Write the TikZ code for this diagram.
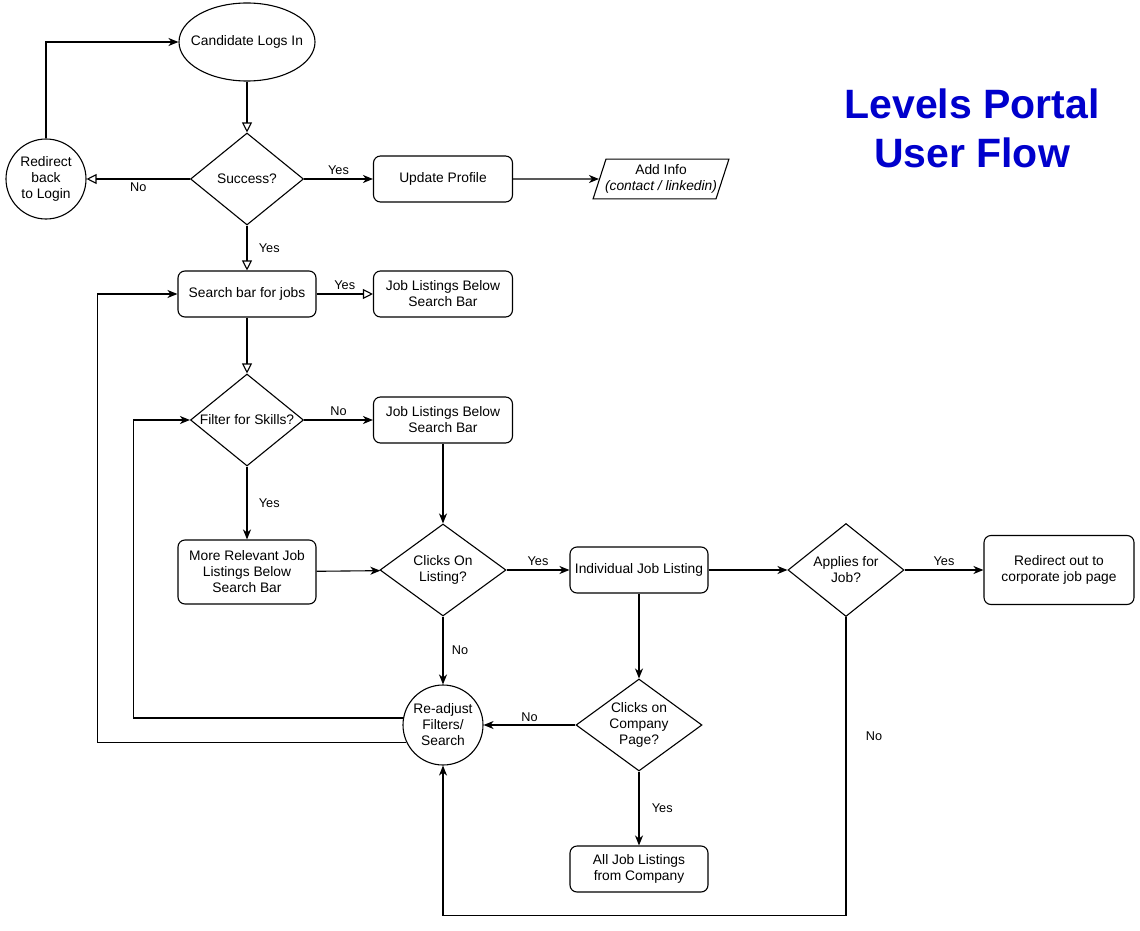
\documentclass[tikz,border=0pt]{standalone}
\usepackage{fontspec}
\setmainfont{Liberation Sans}
\usepackage{xcolor}
\usepackage{tikz}
\usetikzlibrary{shapes.geometric,arrows.meta}

\definecolor{titleblue}{HTML}{0000CC}
\newcommand{\boxfont}{\fontsize{13.8}{16}\selectfont}
\newcommand{\tagfont}{\fontsize{12.7}{15}\selectfont}

\begin{document}
\begin{tikzpicture}[
    x=1pt, y=-1pt,
    font=\boxfont,
    line width=1.1pt,
    process/.style={rectangle, draw, rounded corners=7pt, align=center, minimum width=139pt, minimum height=46pt, inner sep=2pt},
    decision/.style={diamond, draw, inner sep=0pt, label={[align=center]center:#1}},
    terminal/.style={ellipse, draw, inner sep=0pt, minimum width=136pt, minimum height=78pt, label={[align=center]center:#1}},
    redirect/.style={circle, draw, inner sep=0pt, minimum size=80pt, label={[align=center]center:#1}},
    data/.style={trapezium, trapezium left angle=72, trapezium right angle=108, draw, align=center, inner xsep=-1pt, inner ysep=5.5pt},
    flow/.style={-{Stealth[length=10pt, width=8pt, inset=3pt]}},
    openflow/.style={-{Triangle[open, length=10pt, width=10pt]}},
    choice/.style={font=\tagfont}
]
\useasboundingbox (0,0) rectangle (1140,931);

% title
\node[font=\fontsize{41}{49}\selectfont\bfseries, text=titleblue, align=center] (title) at (972,128) {Levels Portal\\User Flow};

% login part
\node[terminal={Candidate Logs In}] (login) at (247,42) {};
\node[decision={Success?}, minimum width=113pt, minimum height=92pt] (success) at (247,179) {};
\node[redirect={Redirect\\back\\to Login}] (back) at (46,179) {};
\node[process] (update) at (443,179) {Update Profile};
\node[data] (addinfo) at (661,179) {Add Info\\\itshape(contact / linkedin)};

% search part
\node[process, minimum width=138pt] (search) at (247,294) {Search bar for jobs};
\node[process] (joblist1) at (443,294) {Job Listings Below\\Search Bar};
\node[decision={Filter for Skills?}, minimum width=113pt, minimum height=92pt] (filter) at (247,420) {};
\node[process] (joblist2) at (443,420) {Job Listings Below\\Search Bar};
\node[process, minimum width=138pt, minimum height=64pt] (more) at (247,572) {More Relevant Job\\Listings Below\\Search Bar};

% listing part
\node[decision={Clicks On\\Listing?}, minimum width=126pt, minimum height=92pt] (clicks) at (443,570) {};
\node[process, minimum width=138pt] (single) at (639,570) {Individual Job Listing};
\node[decision={Applies for\\Job?}, minimum width=116pt, minimum height=93pt] (applies) at (846,570) {};
\node[process, minimum width=150pt, minimum height=69pt] (corporate) at (1059,570) {Redirect out to\\corporate job page};
\node[redirect={Re-adjust\\Filters/\\Search}] (readjust) at (443,725) {};
\node[decision={Clicks on\\Company\\Page?}, minimum width=126pt, minimum height=92pt] (company) at (639,725) {};
\node[process, minimum width=138pt] (alljobs) at (639,869) {All Job Listings\\from Company};

% connectors
\draw[openflow] (login) -- (success);
\draw[openflow] (success) -- node[choice, below] {No} (back);
\draw[flow] (back.north) |- (login);
\draw[flow] (success) -- node[choice, above] {Yes} (update);
\draw[flow] (update) -- (addinfo);
\draw[openflow] (success) -- node[choice, right, xshift=8pt] {Yes} (search);
\draw[openflow] (search) -- node[choice, above] {Yes} (joblist1);
\draw[openflow] (search) -- (filter);
\draw[flow] (filter) -- node[choice, above] {No} (joblist2);
\draw[flow] (filter) -- node[choice, right, xshift=8pt] {Yes} (more);
\draw[flow] (joblist2) -- (clicks);
\draw[flow] (more) -- (clicks);
\draw[flow] (clicks) -- node[choice, above] {Yes} (single);
\draw[flow] (clicks) -- node[choice, right, xshift=5pt] {No} (readjust);
\draw[flow] (single) -- (applies);
\draw[flow] (applies) -- node[choice, above] {Yes} (corporate);
\draw[flow] (single) -- (company);
\draw[flow] (company) -- node[choice, above] {No} (readjust);
\draw[flow] (company) -- node[choice, right, xshift=9pt] {Yes} (alljobs);
\draw[flow] (applies.south) -- node[choice, right, pos=0.4, xshift=16pt] {No} ++(0,298) -| (readjust.south);
\draw[flow] (readjust.170) -- ++(-270,0) |- (filter);
\draw[flow] (readjust.205) -- ++(-309,0) |- (search);

\end{tikzpicture}
\end{document}
